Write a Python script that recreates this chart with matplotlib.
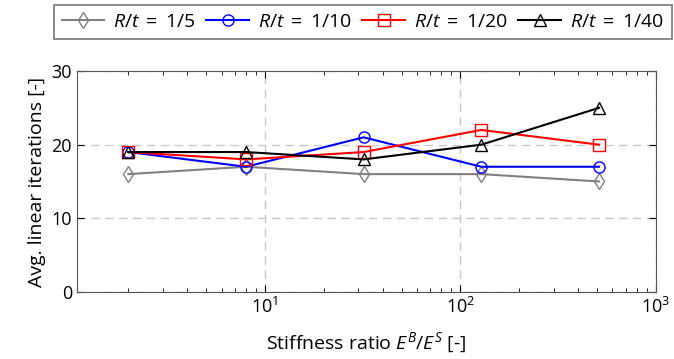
import matplotlib
matplotlib.use("Agg")
import matplotlib.pyplot as plt
from matplotlib.ticker import LogLocator, NullFormatter

plt.rcParams['font.family'] = ['Open Sans', 'DejaVu Sans']
plt.rcParams['mathtext.fontset'] = 'custom'
plt.rcParams['mathtext.it'] = 'Open Sans:italic'
plt.rcParams['mathtext.rm'] = 'Open Sans'

# data
ratio = [2, 8, 32, 128, 512]
it_5 = [16, 17, 16, 16, 15]
it_10 = [19, 17, 21, 17, 17]
it_20 = [19, 18, 19, 22, 20]
it_40 = [19, 19, 18, 20, 25]
labels = [r'$R/t\;=\;\mathrm{1/5}$', r'$R/t\;=\;\mathrm{1/10}$',
          r'$R/t\;=\;\mathrm{1/20}$', r'$R/t\;=\;\mathrm{1/40}$']

fig = plt.figure(figsize=(6.74, 3.59), dpi=100)
ax = fig.add_axes([0.114, 0.187, 0.859, 0.615])

ms = 8
ax.plot(ratio, it_5, color='#808080', marker='d', mfc='none', ms=ms, lw=1.5)
ax.plot(ratio, it_10, color='blue', marker='o', mfc='none', ms=ms, lw=1.5)
ax.plot(ratio, it_20, color='red', marker='s', mfc='none', ms=ms, lw=1.5)
ax.plot(ratio, it_40, color='black', marker='^', mfc='none', ms=ms, lw=1.5)

ax.set_xscale('log')
ax.set_xlim(1.09, 1000)
ax.set_ylim(0, 30)
ax.set_yticks([0, 10, 20, 30])
ax.xaxis.set_minor_locator(LogLocator(base=10, subs=range(2, 10)))
ax.xaxis.set_minor_formatter(NullFormatter())

ax.grid(True, which='major', linestyle=(0, (6, 4)), color='#c8c8c8', lw=1)
ax.tick_params(which='both', direction='in', top=True, right=True, labelsize=13)
ax.tick_params(which='major', length=5)
ax.tick_params(which='minor', length=3)
for s in ax.spines.values():
    s.set_color('#555555')

ax.set_xlabel('Stiffness ratio $E^B/E^S$ [-]', fontsize=14, labelpad=10)
ax.set_ylabel('Avg. linear iterations [-]', fontsize=14)

leg = fig.legend(labels, loc='upper left', bbox_to_anchor=(0.080, 0.986),
                 ncol=4, fontsize=14, frameon=True, fancybox=False,
                 handlelength=2.2, handletextpad=0.45, columnspacing=0.55,
                 borderaxespad=0, borderpad=0.4)
leg.get_frame().set_edgecolor('#555555')
leg.get_frame().set_linewidth(1.2)

fig.savefig('out.png', dpi=100)
